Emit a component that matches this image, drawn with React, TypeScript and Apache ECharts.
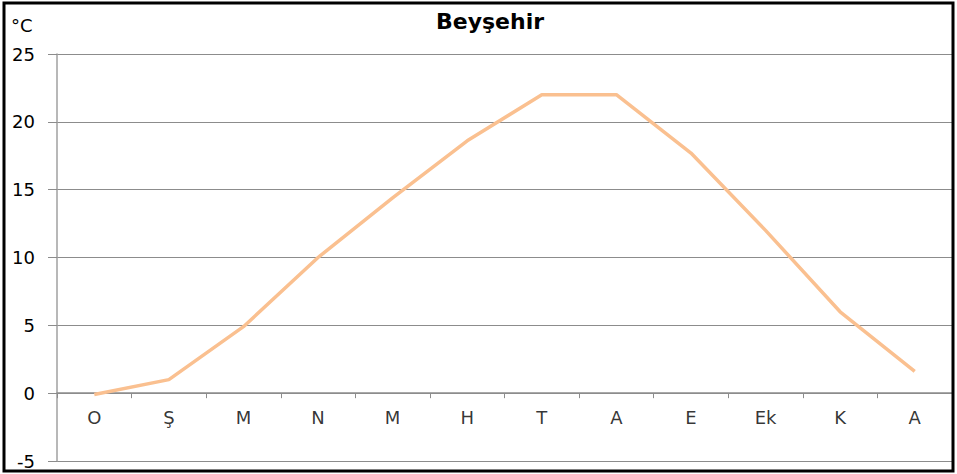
import React, { useEffect, useRef } from "react";
import * as echarts from "echarts";

const categories = ["O", "Ş", "M", "N", "M", "H", "T", "A", "E", "Ek", "K", "A"];
const temperatures = [-0.1, 1.0, 4.9, 10.0, 14.4, 18.6, 22.0, 22.0, 17.7, 12.0, 6.0, 1.6];
const yTicks = { min: -5, max: 25, interval: 5 };
const titleText = "Beyşehir";
const unitText = "°C";

export default function App() {
  const ref = useRef<HTMLDivElement>(null);
  useEffect(() => {
    if (!ref.current) return;
    const chart = echarts.init(ref.current, null, { renderer: "svg" });
    const font = "DejaVu Sans, sans-serif";
    chart.setOption({
      animation: false,
      backgroundColor: "#ffffff",
      title: {
        text: titleText,
        left: 485,
        top: 5,
        textAlign: "center",
        textStyle: { fontFamily: font, fontSize: 22, fontWeight: "bold", color: "#000" },
      },
      graphic: [
        {
          type: "rect",
          shape: { x: 4, y: 3, width: 949, height: 468 },
          style: { fill: "none", stroke: "#000", lineWidth: 3 },
          z: 100,
        },
        {
          type: "text",
          left: 11,
          top: 16,
          style: { text: unitText, font: `18px ${font}`, fill: "#000" },
        },
      ],
      grid: { left: 57, right: 5, top: 54, bottom: 13, containLabel: false, outerBoundsMode: "none" },
      xAxis: {
        type: "category",
        data: categories,
        boundaryGap: true,
        axisLine: { onZero: true, lineStyle: { color: "#8c8c8c", width: 1.5 } },
        axisTick: { show: true, length: 5, lineStyle: { color: "#8c8c8c" } },
        axisLabel: { show: false },
        splitLine: { show: false },
      },
      yAxis: {
        type: "value",
        min: yTicks.min,
        max: yTicks.max,
        interval: yTicks.interval,
        axisLine: { show: true, lineStyle: { color: "#a0a0a0", width: 1.5 } },
        axisTick: { show: true, length: 9, lineStyle: { color: "#8c8c8c" } },
        axisLabel: { margin: 22, fontFamily: font, fontSize: 18, color: "#000" },
        splitLine: { show: true, lineStyle: { color: "#8c8c8c", width: 1 } },
      },
      series: [
        {
          type: "line",
          data: temperatures,
          symbol: "none",
          lineStyle: { color: "#fac090", width: 3.5 },
        },
        {
          type: "scatter",
          silent: true,
          symbolSize: 0,
          itemStyle: { color: "transparent" },
          data: categories.map((c, i) => [i, 0]),
          label: {
            show: true,
            position: "bottom",
            distance: 15,
            fontFamily: font,
            fontSize: 18,
            color: "#000",
            formatter: (p: any) => categories[p.value[0]],
          },
        },
      ],
    });
    return () => chart.dispose();
  }, []);
  return (
    <div
      ref={ref}
      style={{ position: "fixed", left: 0, top: 0, width: 957, height: 474 }}
    />
  );
}
